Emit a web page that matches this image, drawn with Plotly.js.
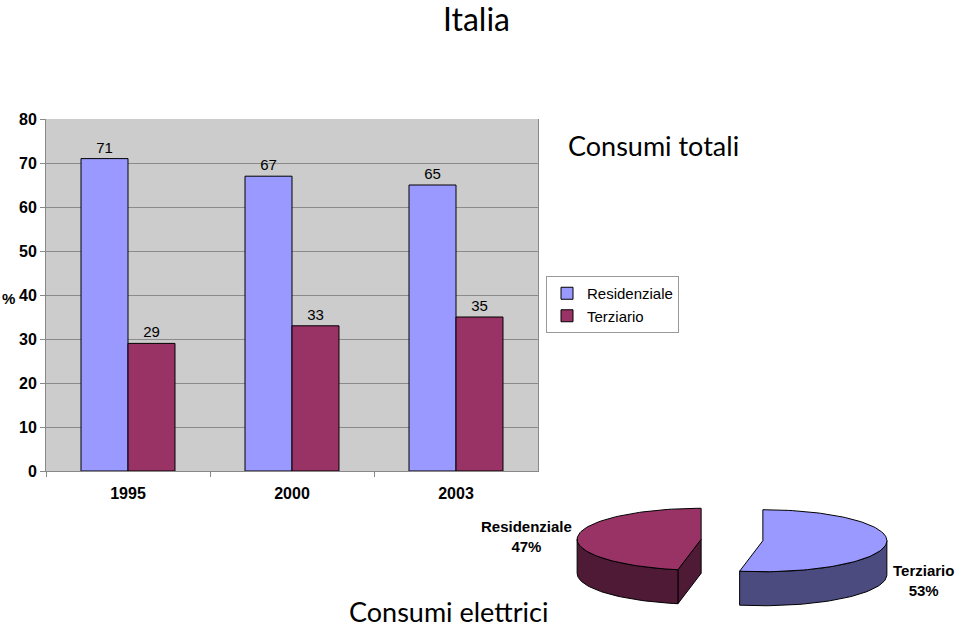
<!DOCTYPE html>
<html><head><meta charset="utf-8">
<script src="https://cdn.plot.ly/plotly-3.0.1.min.js"></script>
<style>html,body{margin:0;padding:0;background:#fff}#chart{width:960px;height:627px}</style>
</head><body><div id="chart"></div>
<script>
// ---- data ----
const years = ['1995', '2000', '2003'];
const residenziale = [71, 67, 65];
const terziario = [29, 33, 35];
const seriesNames = ['Residenziale', 'Terziario'];
const yTicks = [0, 10, 20, 30, 40, 50, 60, 70, 80];

const pieLabels = ['Residenziale', 'Terziario'];
const pieValues = [47, 53];

// ---- styles ----
const W = 960, H = 627;
const colTop = ['#993366', '#9999ff'];
const colSide = ['#4f1a35', '#4b4b80'];

const traces = [
  {type: 'bar', name: seriesNames[0], x: years, y: residenziale,
   marker: {color: '#9999ff', line: {color: '#000', width: 1}},
   text: residenziale.map(String), textposition: 'outside', cliponaxis: false,
   textfont: {family: 'Liberation Sans, Arial', size: 15, color: '#000'}, hoverinfo: 'skip'},
  {type: 'bar', name: seriesNames[1], x: years, y: terziario,
   marker: {color: '#993366', line: {color: '#000', width: 1}},
   text: terziario.map(String), textposition: 'outside', cliponaxis: false,
   textfont: {family: 'Liberation Sans, Arial', size: 15, color: '#000'}, hoverinfo: 'skip'}
];

// ---- 3D exploded pie geometry computed from pieValues (pixel axes x2/y2) ----
const pc = {cx: 732, cy: 540, rx: 124, ry: 31, depth: 34, pull: 0.25};
const total = pieValues.reduce((a, b) => a + b, 0);
const rad = d => d * Math.PI / 180;
function pt(c, th, dz) { return [c[0] + pc.rx * Math.sin(rad(th)), c[1] - pc.ry * Math.cos(rad(th)) + (dz || 0)]; }
function arc(c, a0, a1, dz) {
  const n = Math.max(2, Math.ceil(Math.abs(a1 - a0) / 2));
  const out = [];
  for (let i = 0; i <= n; i++) out.push(pt(c, a0 + (a1 - a0) * i / n, dz));
  return out;
}
function poly(points, fill) {
  return {type: 'scatter', xaxis: 'x2', yaxis: 'y2', mode: 'lines', fill: 'toself', fillcolor: fill,
    x: points.map(p => p[0]), y: points.map(p => p[1]), line: {color: '#000', width: 1},
    showlegend: false, hoverinfo: 'skip'};
}
// slices go counterclockwise from 12 o'clock (angles measured clockwise from top)
let acc = 0;
const slices = pieValues.map((v, i) => {
  const a0 = -acc * 360 / total; acc += v; const a1 = -acc * 360 / total;
  const mid = (a0 + a1) / 2;
  const c = [pc.cx + pc.pull * pc.rx * Math.sin(rad(mid)), pc.cy - pc.pull * pc.ry * Math.cos(rad(mid))];
  return {i, a0, a1, mid, c};
});
const pieTraces = [];
slices.forEach(s => {
  const lo = Math.min(s.a0, s.a1), hi = Math.max(s.a0, s.a1);
  // radial cut faces visible when facing the viewer
  [s.a0, s.a1].forEach(a => {
    const other = (a === s.a0) ? s.a1 : s.a0;
    const sgn = other > a ? -1 : 1;
    const nth = a + sgn * 90;
    if (-Math.cos(rad(nth)) > 0.01) {
      const p = pt(s.c, a);
      pieTraces.push(poly([s.c, p, [p[0], p[1] + pc.depth], [s.c[0], s.c[1] + pc.depth], s.c], colSide[s.i]));
    }
  });
  // outer front wall
  for (let k = -2; k <= 1; k++) {
    const f0 = Math.max(lo, 90 + 360 * k), f1 = Math.min(hi, 270 + 360 * k);
    if (f1 > f0) {
      const topArc = arc(s.c, f0, f1, 0);
      const botArc = arc(s.c, f1, f0, pc.depth);
      pieTraces.push(poly(topArc.concat(botArc, [topArc[0]]), colSide[s.i]));
    }
  }
  const top = [s.c].concat(arc(s.c, s.a0, s.a1, 0), [s.c]);
  pieTraces.push(poly(top, colTop[s.i]));
});

// pie labels placed outside each slice along its bisector
const pieAnn = slices.map(s => {
  const right = Math.sin(rad(s.mid)) > 0;
  const edge = pt(s.c, s.mid);
  return {xref: 'x2', yref: 'y2', x: edge[0] + (right ? 5 : -4), y: edge[1] + (right ? 37 : 0),
    xanchor: right ? 'left' : 'right', yanchor: 'middle', align: 'center', showarrow: false,
    text: '<b>' + pieLabels[s.i] + '<br>' + pieValues[s.i] + '%</b>',
    font: {family: 'Liberation Sans, Arial', size: 15, color: '#000'}};
});

const layout = {
  width: W, height: H, margin: {l: 0, r: 0, t: 0, b: 0},
  paper_bgcolor: '#fff', plot_bgcolor: 'rgba(0,0,0,0)',
  showlegend: true, barmode: 'group', bargap: 0.427, bargroupgap: 0,
  xaxis: {domain: [46 / W, 538 / W], type: 'category', showgrid: false, showline: true, linecolor: '#888', linewidth: 1,
    ticks: 'outside', tickson: 'boundaries', ticklen: 5, tickcolor: '#888', ticklabelstandoff: 8,
    tickfont: {family: 'Liberation Sans, Arial', size: 16, color: '#000', weight: 'bold'}, fixedrange: true},
  yaxis: {domain: [1 - 471 / H, 1 - 119 / H], range: [0, 80], tickvals: yTicks, showgrid: true, gridcolor: '#8a8a8a', gridwidth: 1,
    zeroline: false, showline: true, mirror: true, linecolor: '#888', ticks: 'outside', ticklen: 5, tickcolor: '#888',
    tickfont: {family: 'Liberation Sans, Arial', size: 16, color: '#000', weight: 'bold'}, fixedrange: true},
  xaxis2: {domain: [0, 1], range: [0, W], visible: false, fixedrange: true},
  yaxis2: {domain: [0, 1], range: [H, 0], visible: false, fixedrange: true},
  legend: {x: 546 / W, y: 1 - 276 / H, xanchor: 'left', yanchor: 'top', bgcolor: '#fff', bordercolor: '#999', borderwidth: 1,
    font: {family: 'Liberation Sans, Arial', size: 15, color: '#000'}, itemwidth: 30, tracegroupgap: 0},
  shapes: [{type: 'rect', xref: 'x domain', yref: 'y domain', x0: 0, x1: 1, y0: 0, y1: 1,
    fillcolor: '#cccccc', line: {width: 0}, layer: 'below'}],
  annotations: [
    {xref: 'paper', yref: 'paper', x: 476 / W, y: 1 - 19 / H, xanchor: 'center', yanchor: 'middle', showarrow: false,
     text: 'Italia', font: {family: 'Lato, Carlito, sans-serif', size: 32, color: '#000'}},
    {xref: 'paper', yref: 'paper', x: 566 / W, y: 1 - 146 / H, xanchor: 'left', yanchor: 'middle', showarrow: false,
     text: 'Consumi totali', font: {family: 'Lato, Carlito, sans-serif', size: 27, color: '#000'}},
    {xref: 'paper', yref: 'paper', x: 347 / W, y: 1 - 611 / H, xanchor: 'left', yanchor: 'middle', showarrow: false,
     text: 'Consumi elettrici', font: {family: 'Lato, Carlito, sans-serif', size: 27, color: '#000'}},
    {xref: 'paper', yref: 'paper', x: 17 / W, y: 1 - 298 / H, xanchor: 'right', yanchor: 'middle', showarrow: false,
     text: '<b>%</b>', font: {family: 'Liberation Sans, Arial', size: 15, color: '#000'}}
  ].concat(pieAnn)
};

Plotly.newPlot('chart', traces.concat(pieTraces), layout, {displayModeBar: false, staticPlot: true});
</script></body></html>
